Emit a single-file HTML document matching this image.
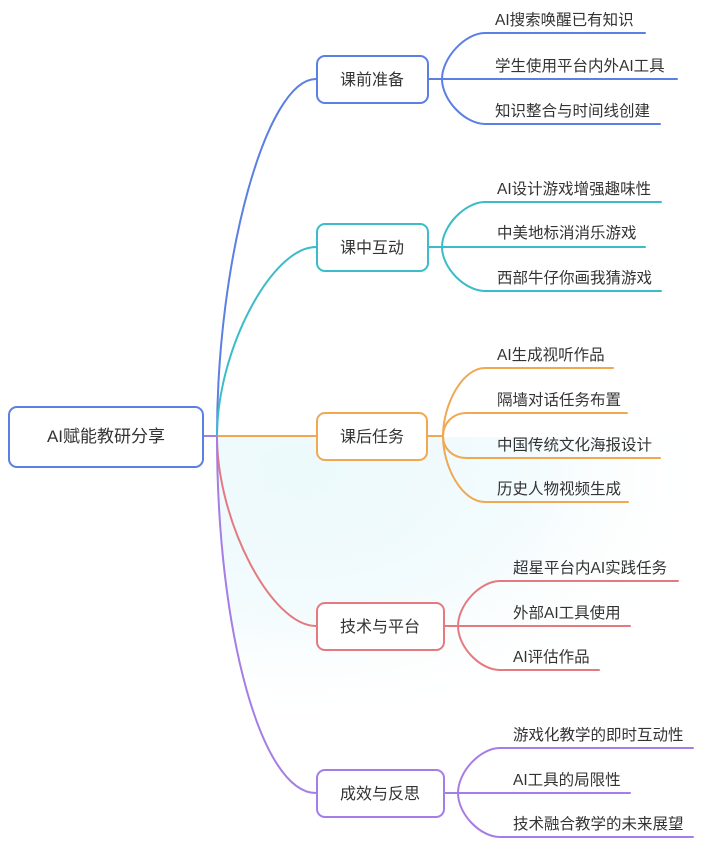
<!DOCTYPE html>
<html>
<head>
<meta charset="utf-8">
<style>
  html,body{margin:0;padding:0;background:#ffffff;}
  body{width:701px;height:861px;overflow:hidden;}
  svg{display:block;}
  text{font-family:"Liberation Sans","Noto Sans CJK SC",sans-serif;fill:#333333;}
</style>
</head>
<body>
<svg width="701" height="861" viewBox="0 0 701 861" xmlns="http://www.w3.org/2000/svg">
  <defs>
    <radialGradient id="tint" cx="300" cy="470" r="420" gradientUnits="userSpaceOnUse" gradientTransform="translate(300 470) scale(1 0.62) translate(-300 -470)">
      <stop offset="0" stop-color="#ecfafc"/>
      <stop offset="0.55" stop-color="#f3fbfd"/>
      <stop offset="1" stop-color="#ffffff" stop-opacity="0"/>
    </radialGradient>
    <clipPath id="tintclip">
      <path d="M217 437 C217 632 261.5 793 316 793 L701 793 L701 437 Z"/>
    </clipPath>
  </defs>
  <rect x="0" y="0" width="701" height="861" fill="#ffffff"/>
  <rect x="217" y="437" width="484" height="300" fill="url(#tint)" clip-path="url(#tintclip)"/>

  <g fill="none" stroke-width="2" stroke-linecap="round">
    <!-- root to junction -->
    <path d="M203 436 L217 436" stroke="#a57de6"/>
    <!-- main connectors -->
    <path d="M217 436 C217 257.5 266.5 79 316 79" stroke="#5b7fe3"/>
    <path d="M217 436 C217 351 271.5 247 316 247" stroke="#3bbcc8"/>
    <path d="M217 436 L316 436" stroke="#f0a853"/>
    <path d="M217 436 C217 521.5 271.5 626 316 626" stroke="#e47a7f"/>
    <path d="M217 436 C217 632 261.5 793 316 793" stroke="#a57de6"/>

    <!-- 课前准备 children -->
    <g stroke="#5b7fe3">
      <path d="M428 79 L442 79"/>
      <path d="M442 79 C442 58 465 33 485 33 L645 33"/>
      <path d="M442 79 L677 79"/>
      <path d="M442 79 C442 100 465 124 485 124 L660 124"/>
    </g>
    <!-- 课中互动 children -->
    <g stroke="#3bbcc8">
      <path d="M428 247 L442 247"/>
      <path d="M442 247 C442 226 465 202 485 202 L661 202"/>
      <path d="M442 247 L645 247"/>
      <path d="M442 247 C442 268 465 291 485 291 L661 291"/>
    </g>
    <!-- 课后任务 children -->
    <g stroke="#f0a853">
      <path d="M427 436 L443 436"/>
      <path d="M443 436 C443 405 462 368 485 368 L613 368"/>
      <path d="M443 436 C443 424 452 413 467 413 L627 413"/>
      <path d="M443 436 C443 448 452 458 467 458 L660 458"/>
      <path d="M443 436 C443 467 462 502 485 502 L628 502"/>
    </g>
    <!-- 技术与平台 children -->
    <g stroke="#e47a7f">
      <path d="M444 626 L458 626"/>
      <path d="M458 626 C458 605 480 581 500 581 L678 581"/>
      <path d="M458 626 L630 626"/>
      <path d="M458 626 C458 647 480 670 500 670 L599 670"/>
    </g>
    <!-- 成效与反思 children -->
    <g stroke="#a57de6">
      <path d="M444 793 L458 793"/>
      <path d="M458 793 C458 772 480 748 500 748 L693 748"/>
      <path d="M458 793 L630 793"/>
      <path d="M458 793 C458 814 480 837 500 837 L693 837"/>
    </g>
  </g>

  <!-- boxes -->
  <g stroke-width="2">
    <rect x="9" y="407" width="194" height="60" rx="8" fill="#ffffff" stroke="#5b7fe3"/>
    <rect x="317" y="56" width="111" height="47" rx="8" fill="#ffffff" stroke="#5b7fe3"/>
    <rect x="317" y="224" width="111" height="47" rx="8" fill="#ffffff" stroke="#3bbcc8"/>
    <rect x="317" y="413" width="110" height="47" rx="8" fill="#ffffff" stroke="#f0a853"/>
    <rect x="317" y="603" width="127" height="47" rx="8" fill="#ffffff" stroke="#e47a7f"/>
    <rect x="317" y="770" width="127" height="47" rx="8" fill="#ffffff" stroke="#a57de6"/>
  </g>

  <!-- node labels -->
  <g text-anchor="middle">
    <text x="106" y="442" font-size="17">AI赋能教研分享</text>
    <text x="372" y="85" font-size="16">课前准备</text>
    <text x="372" y="253" font-size="16">课中互动</text>
    <text x="372" y="442" font-size="16">课后任务</text>
    <text x="380" y="632" font-size="16">技术与平台</text>
    <text x="380" y="799" font-size="16">成效与反思</text>
  </g>

  <!-- child labels -->
  <g font-size="15.5">
    <text x="495" y="25">AI搜索唤醒已有知识</text>
    <text x="495" y="71">学生使用平台内外AI工具</text>
    <text x="495" y="116">知识整合与时间线创建</text>

    <text x="497" y="194">AI设计游戏增强趣味性</text>
    <text x="497" y="238">中美地标消消乐游戏</text>
    <text x="497" y="283">西部牛仔你画我猜游戏</text>

    <text x="497" y="360">AI生成视听作品</text>
    <text x="497" y="405">隔墙对话任务布置</text>
    <text x="497" y="450">中国传统文化海报设计</text>
    <text x="497" y="494">历史人物视频生成</text>

    <text x="513" y="573">超星平台内AI实践任务</text>
    <text x="513" y="618">外部AI工具使用</text>
    <text x="513" y="662">AI评估作品</text>

    <text x="513" y="740">游戏化教学的即时互动性</text>
    <text x="513" y="785">AI工具的局限性</text>
    <text x="513" y="829">技术融合教学的未来展望</text>
  </g>
</svg>
</body>
</html>
